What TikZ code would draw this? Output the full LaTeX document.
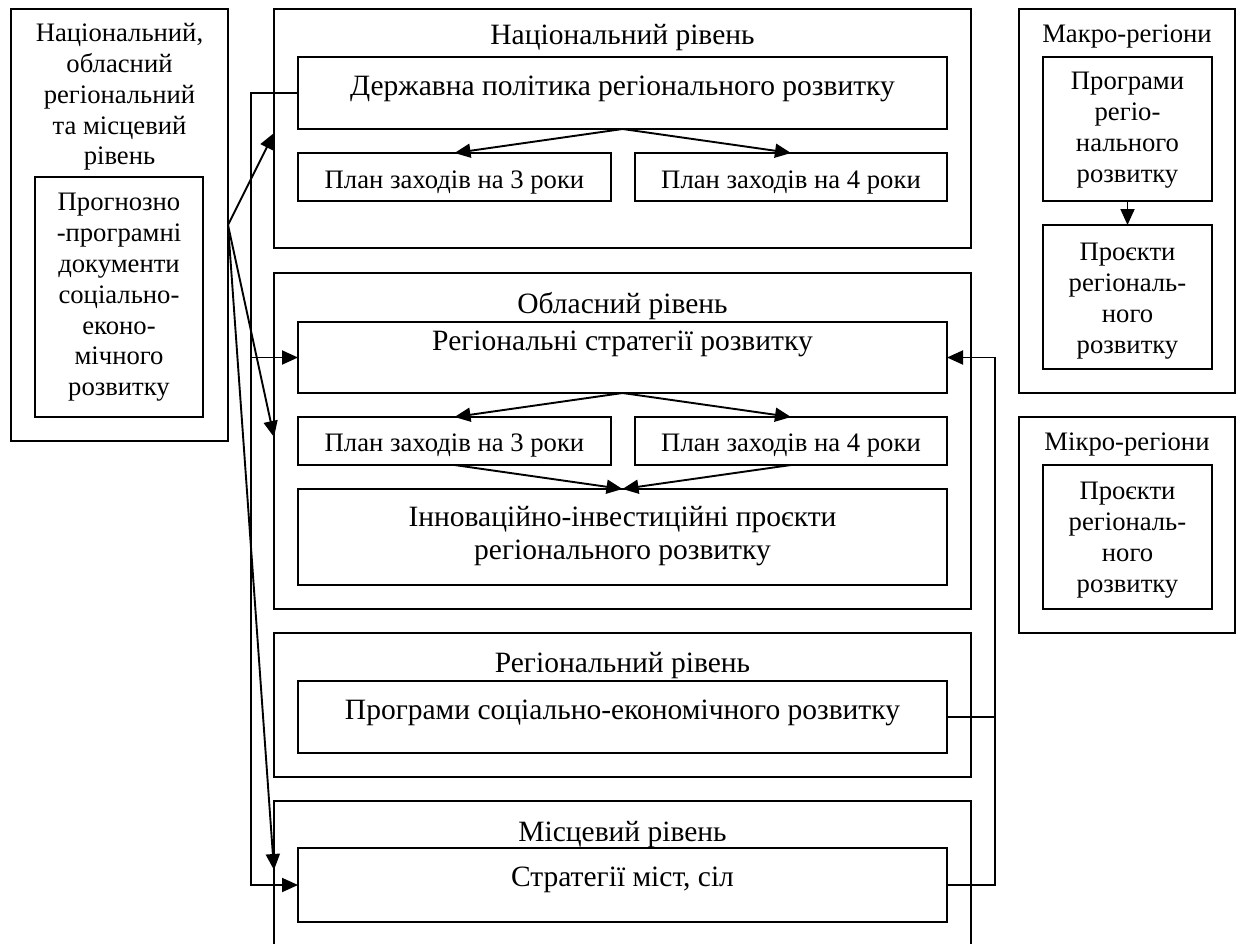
\documentclass[tikz,border=0pt]{standalone}
\usepackage{fontspec}
\setmainfont{Liberation Serif}
\usetikzlibrary{arrows.meta}
\begin{document}
\begin{tikzpicture}[x=1pt,y=-1pt,
  bx/.style={draw, line width=1.9pt, inner sep=0pt, outer sep=0pt, anchor=north west},
  txt/.style={font=\fontsize{26.67}{30.8}\selectfont, align=center, inner sep=0pt},
  big/.style={font=\fontsize{29.5}{33.2}\selectfont, align=center, inner sep=0pt},
  arr/.style={line width=1.9pt, -{Triangle[length=16pt,width=14pt]}},
  ln/.style={line width=1.9pt}]
\clip (0,0) rectangle (1240,943);
% boxes
\node[bx,minimum width=217pt,minimum height=432pt] (lo) at (11,9) {};
\node[bx,minimum width=168pt,minimum height=240pt] (doc) at (35,177) {};
\node[bx,minimum width=697pt,minimum height=239pt] (nat) at (274,9) {};
\node[bx,minimum width=649pt,minimum height=72pt] (dp) at (298,57) {};
\node[bx,minimum width=313pt,minimum height=48pt] (np3) at (298,153) {};
\node[bx,minimum width=312pt,minimum height=48pt] (np4) at (635,153) {};
\node[bx,minimum width=697pt,minimum height=336pt] (obl) at (274,273) {};
\node[bx,minimum width=649pt,minimum height=71pt] (rs) at (298,322) {};
\node[bx,minimum width=313pt,minimum height=48pt] (op3) at (298,417) {};
\node[bx,minimum width=312pt,minimum height=48pt] (op4) at (635,417) {};
\node[bx,minimum width=649pt,minimum height=96pt] (inv) at (298,489) {};
\node[bx,minimum width=697pt,minimum height=144pt] (reg) at (274,633) {};
\node[bx,minimum width=649pt,minimum height=72pt] (prog) at (298,681) {};
\node[bx,minimum width=697pt,minimum height=170pt] (loc) at (274,801) {};
\node[bx,minimum width=649pt,minimum height=74pt] (cit) at (298,848) {};
\node[bx,minimum width=216pt,minimum height=384pt] (mac) at (1019,9) {};
\node[bx,minimum width=169pt,minimum height=144pt] (mprog) at (1043,57) {};
\node[bx,minimum width=169pt,minimum height=144pt] (mproj) at (1043,225) {};
\node[bx,minimum width=216pt,minimum height=216pt] (mic) at (1019,417) {};
\node[bx,minimum width=169pt,minimum height=144pt] (miproj) at (1043,465) {};
% texts
\node[txt] (t-lo) at (119.5,97) {Національний,\\обласний\\регіональний\\та місцевий\\рівень};
\node[txt] (t-doc) at (119,297.5) {Прогнозно\\-програмні\\документи\\соціально-\\еконо-\\мічного\\розвитку};
\node[big] (t-nat) at (622.5,38) {Національний рівень};
\node[big] (t-dp) at (622.5,89) {Державна політика регіонального розвитку};
\node[txt] (t-np3) at (454.5,183) {План заходів на 3 роки};
\node[txt] (t-np4) at (791,183) {План заходів на 4 роки};
\node[big] (t-obl) at (622.5,306) {Обласний рівень};
\node[big] (t-rs) at (622.5,344) {Регіональні стратегії розвитку};
\node[txt] (t-op3) at (454.5,446) {План заходів на 3 роки};
\node[txt] (t-op4) at (791,446) {План заходів на 4 роки};
\node[big] (t-inv) at (622.5,536) {Інноваційно-інвестиційні проєкти\\регіонального розвитку};
\node[big] (t-reg) at (622.5,666) {Регіональний рівень};
\node[big] (t-prog) at (622.5,713) {Програми соціально-економічного розвитку};
\node[big] (t-loc) at (622.5,835) {Місцевий рівень};
\node[big] (t-cit) at (622.5,880) {Стратегії міст, сіл};
\node[txt] (t-mac) at (1127,37) {Макро-регіони};
\node[txt] (t-mprog) at (1127.5,130) {Програми\\регіо-\\нального\\розвитку};
\node[txt] (t-mproj) at (1127.5,301) {Проєкти\\регіональ-\\ного\\розвитку};
\node[txt] (t-mic) at (1127,445) {Мікро-регіони};
\node[txt] (t-miproj) at (1127.5,540) {Проєкти\\регіональ-\\ного\\розвитку};
% connectors inside
\draw[arr] (dp.south) -- (np3.north);
\draw[arr] (dp.south) -- (np4.north);
\draw[arr] (rs.south) -- (op3.north);
\draw[arr] (rs.south) -- (op4.north);
\draw[arr] (op3.south) -- (inv.north);
\draw[arr] (op4.south) -- (inv.north);
\draw[arr] (mprog.south) -- (mproj.north);
% left connectors
\coordinate (src) at (lo.east |- 0,225);
\draw[arr] (src) -- (nat.west |- 0,133);
\draw[arr] (src) -- (obl.west |- 0,437);
\draw[arr] (src) -- (loc.west |- 0,870);
\draw[arr] (dp.west) -- ++(-47,0) |- (cit.west);
\draw[arr] (rs.west -| 251,0) -- (rs.west);
% right connectors
\draw[arr] (prog.east) -- ++(48,0) |- (rs.east);
\draw[ln] (cit.east) -- (cit.east -| 995,0) -- (prog.east -| 995,0);
\end{tikzpicture}
\end{document}
